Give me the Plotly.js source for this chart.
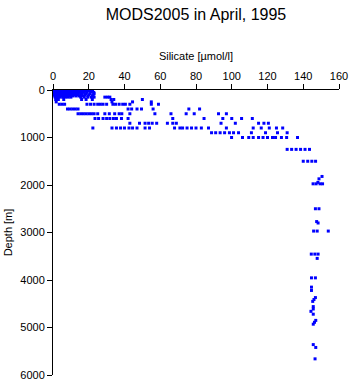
<!DOCTYPE html>
<html>
<head>
<meta charset="utf-8">
<script src="https://cdn.plot.ly/plotly-3.0.1.min.js"></script>
<style>html,body{margin:0;padding:0;background:#fff;}#chart{width:351px;height:384px;}</style>
</head>
<body>
<div id="chart"></div>
<script>
// Depth levels (m) and the silicate values (µmol/l) observed at each level
const depthLevels = [0, 10, 20, 30, 50, 75, 100, 125, 150, 200, 250, 300, 400, 500, 600, 700, 800, 900, 1000,
  1250, 1500, 1820, 1870, 1945, 1975, 2500, 2770, 2800, 2970, 3455, 3545, 3955, 4150, 4220,
  4370, 4410, 4450, 4560, 4610, 4660, 4720, 4850, 4890, 4930, 5360, 5420, 5660];

const silicateAtLevel = [
  [0.3,0.8,1.5,2.2,3.0,3.8,4.6,5.5,6.3,7.1,8.0,8.9,9.7,10.6,11.5,12.4,13.8,15.2,17.0,19.5],
  [0.5,1.2,2.0,2.9,3.7,4.5,5.4,6.2,7.0,7.9,8.8,9.6,10.4,11.3,12.1,13.0,14.6,18.5,21.0],
  [0.4,1.1,1.9,2.7,3.5,4.4,5.2,6.0,6.9,7.7,8.6,9.4,10.3,11.2,12.2,13.3,15.8,20.2,22.1],
  [0.6,1.4,2.3,3.1,4.0,4.8,5.7,6.5,7.4,8.2,9.1,10.0,10.9,11.8,12.7,14.1,17.2,21.5],
  [0.5,1.3,2.2,3.0,3.9,4.7,5.6,6.4,7.3,8.1,9.0,9.9,10.8,11.9,13.1,14.9,16.5,19.0,22.8],
  [0.8,1.6,2.5,3.3,4.2,5.0,5.9,6.8,7.6,8.5,9.3,10.2,11.4,12.6,14.0,16.0,18.2,20.8,23.0],
  [0.7,1.5,2.4,3.6,4.9,6.1,7.5,8.7,9.9,11.2,12.5,13.9,15.5,17.8,20.0,22.5],
  [1.0,2.0,3.2,4.6,6.0,7.8,9.5,11.0,12.8,14.5,16.8,19.5,22.0],
  [1.2,2.5,4.0,5.5,7.0,8.5,10.0,15.5,17.5,19.5,21.5,23.0,29.0,30.5,31.8],
  [1.5,3.0,6.0,16.0,18.5,22.0,32.5,34.0,50.0],
  [1.8,33.0,44.5,55.0],
  [3.5,5.0,6.5,19.0,21.0,23.0,25.0,26.5,28.0,30.0,33.5,35.0,37.0,39.0,40.5,43.0,55.0,59.0],
  [8.1,9.5,11.0,12.5,14.0,42.0,44.0,47.0,49.5,56.0,76.0,82.0],
  [14.0,15.5,17.0,18.5,20.0,21.5,23.0,25.0,29.0,31.5,34.5,37.0,38.5,43.0,57.0,66.0,74.5,79.0,92.6,97.0],
  [23.5,25.5,28.0,30.0,31.8,33.8,35.5,38.3,42.0,67.0,84.5,95.0,100.0,105.5,111.5],
  [43.0,48.4,51.5,53.5,55.5,58.0,64.0,67.0,69.0,94.0,102.0,115.0,118.0,120.5],
  [22.3,33.0,35.5,37.8,40.0,42.5,44.5,47.0,51.5,54.0,68.0,71.0,72.5,75.0,77.5,80.0,83.0,87.0,97.0,112.0,116.5,121.0,125.0,128.5],
  [88.7,91.0,93.5,96.0,98.7,101.0,103.8,111.0,118.9,125.6,131.0],
  [99.9,106.0,109.5,112.0,115.0,117.5,120.0,122.8,124.5,127.8,130.7,136.8],
  [131.0,133.5,136.0,138.5,141.0,143.5],
  [140.0,142.5,144.8,146.9],
  [150.5],
  [148.8],
  [148.2],
  [145.5,147.2,149.4,150.8],
  [146.8,148.8],
  [147.5],
  [148.3],
  [145.8,147.8,154.0],
  [144.5,146.5,148.3],
  [147.8],
  [144.6,146.8],
  [144.6],
  [144.6],
  [146.8],
  [146.0],
  [145.3],
  [145.6],
  [145.6],
  [144.3],
  [145.6],
  [147.0],
  [146.3],
  [145.6],
  [145.6],
  [147.0],
  [146.6]
];

const xTickVals = [0, 20, 40, 60, 80, 100, 120, 140, 160];
const yTickVals = [0, 1000, 2000, 3000, 4000, 5000, 6000];

const xs = [], ys = [];
depthLevels.forEach(function (d, i) {
  silicateAtLevel[i].forEach(function (v) { xs.push(v); ys.push(d); });
});

const font = {family: 'Liberation Sans, Arial, Helvetica, sans-serif', size: 11, color: '#000'};

const trace = {
  type: 'scatter', mode: 'markers', x: xs, y: ys,
  marker: {symbol: 'square', size: 3, color: '#0000ff', line: {width: 0}},
  hoverinfo: 'x+y'
};

const layout = {
  width: 351, height: 384,
  margin: {l: 53, r: 12, t: 90, b: 9, pad: 0},
  paper_bgcolor: '#fff', plot_bgcolor: '#fff',
  showlegend: false,
  font: font,
  title: {text: 'MODS2005 in April, 1995', font: {family: font.family, size: 16, color: '#000'},
          xref: 'paper', x: 0.5, xanchor: 'center', yref: 'container', y: 0.963, yanchor: 'middle'},
  xaxis: {
    side: 'top', range: [0, 160], tickvals: xTickVals, ticktext: xTickVals.map(String),
    ticks: 'outside', ticklen: 5, tickwidth: 1, tickcolor: '#000',
    showline: true, linecolor: '#000', linewidth: 1, showgrid: false, zeroline: false,
    tickfont: font, automargin: false,
    title: {text: 'Silicate [µmol/l]', font: font, standoff: 6}
  },
  yaxis: {
    range: [6000, 0], tickvals: yTickVals, ticktext: yTickVals.map(String),
    ticks: 'outside', ticklen: 5, tickwidth: 1, tickcolor: '#000',
    showline: true, linecolor: '#000', linewidth: 1, showgrid: false, zeroline: false,
    tickfont: font, automargin: false,
    title: {text: 'Depth [m]', font: font, standoff: 5}
  }
};

Plotly.newPlot('chart', [trace], layout, {displayModeBar: false, staticPlot: true});
</script>
</body>
</html>
